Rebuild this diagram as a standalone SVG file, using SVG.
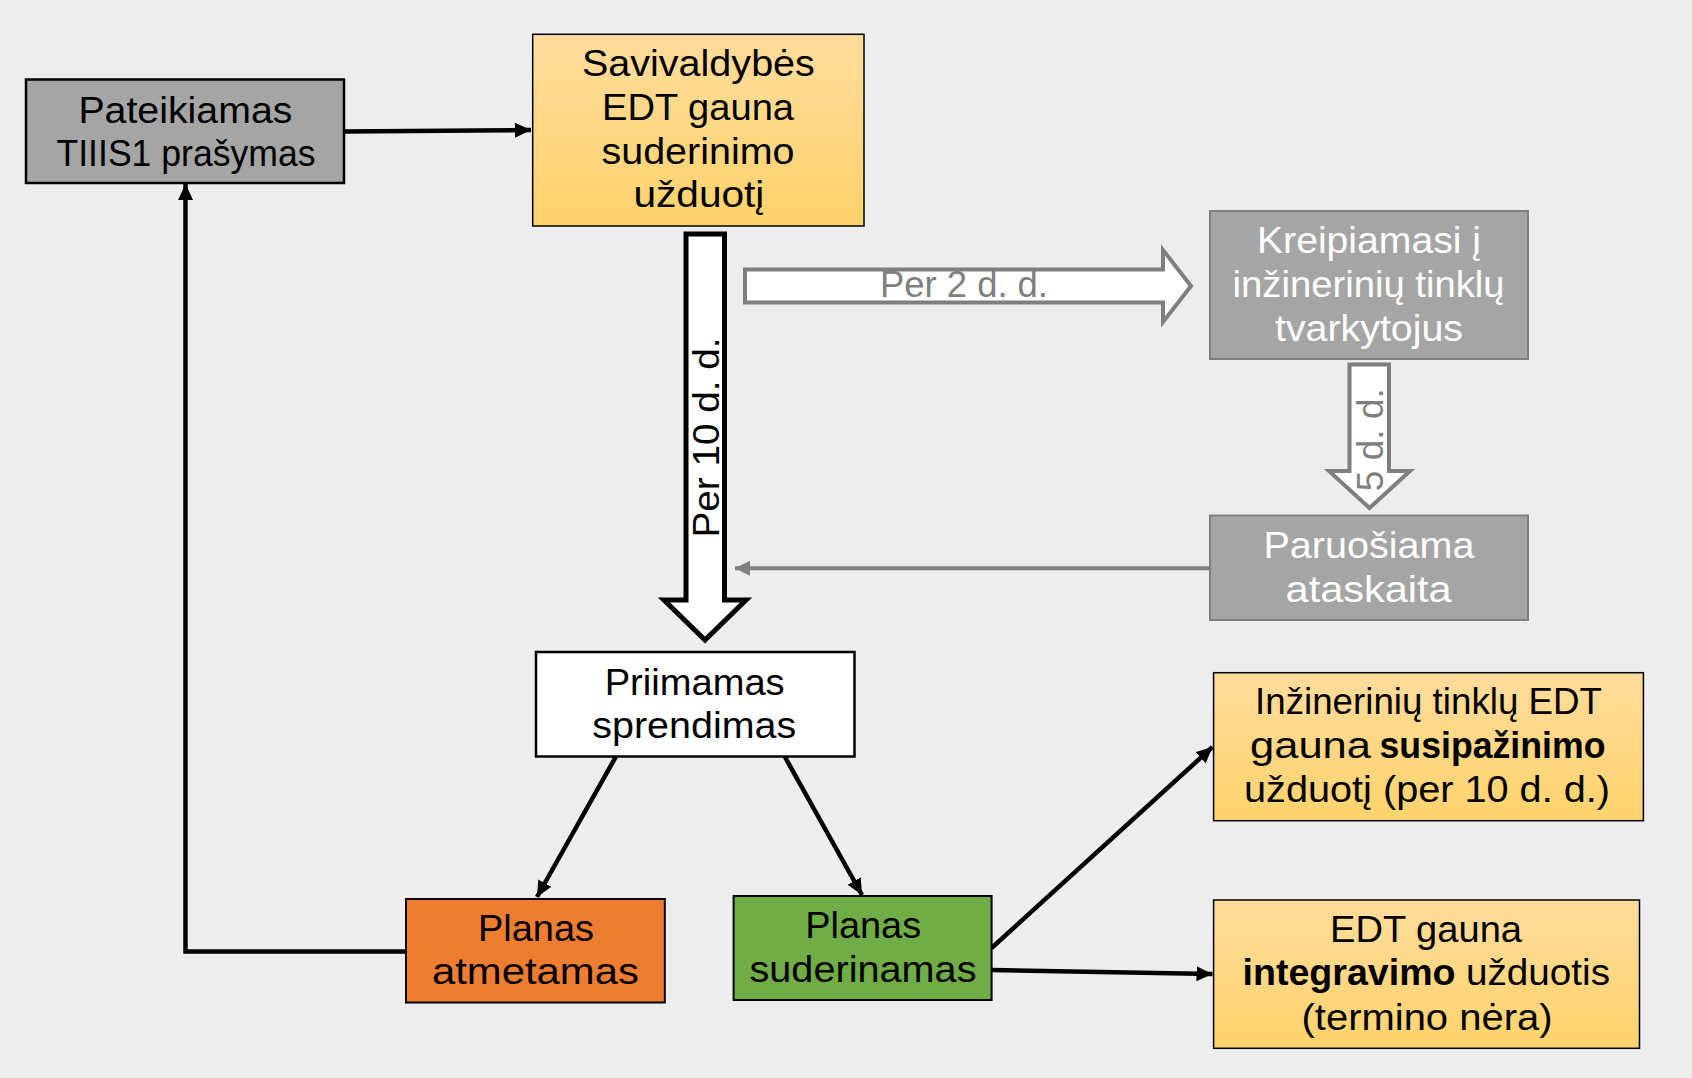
<svg xmlns="http://www.w3.org/2000/svg" width="1692" height="1078" viewBox="0 0 1692 1078">
<defs>
<style>
text{font-family:"Liberation Sans",Arial,sans-serif;font-size:37px;text-anchor:middle;fill:#000}
.w{fill:#fff}
.g{fill:#7f7f7f}
.b{font-weight:bold}
.st{text-anchor:start}
.gray{fill:#a5a5a5;stroke:#7f7f7f;stroke-width:2}
.org{fill:url(#og);stroke:#000;stroke-width:1.5}
.con{fill:none;stroke:#000;stroke-width:4.5}
.big{fill:#fff;stroke-linejoin:miter}
</style>
<linearGradient id="og" x1="0" y1="0" x2="0" y2="1">
<stop offset="0" stop-color="#ffdc9c"/>
<stop offset="1" stop-color="#ffd36c"/>
</linearGradient>
<marker id="ah" markerUnits="userSpaceOnUse" markerWidth="18" markerHeight="16" refX="16" refY="7.5" orient="auto">
<path d="M0,0 L16,7.5 L0,15 z" fill="#000"/>
</marker>
<marker id="ahg" markerUnits="userSpaceOnUse" markerWidth="16" markerHeight="16" refX="15" refY="7.5" orient="auto">
<path d="M0,0 L15,7.5 L0,15 z" fill="#7f7f7f"/>
</marker>
</defs>
<rect x="0" y="0" width="1692" height="1078" fill="#ededed"/>

<g id="connectors">
<line class="con" x1="344" y1="131.5" x2="531" y2="130" marker-end="url(#ah)"/>
<polyline class="con" points="405.9,951.5 185.5,951.5 185.5,184" marker-end="url(#ah)"/>
<line class="con" x1="615.7" y1="757" x2="537" y2="897" marker-end="url(#ah)"/>
<line class="con" x1="785" y1="757" x2="862" y2="895" marker-end="url(#ah)"/>
<line class="con" x1="991.6" y1="948" x2="1212.5" y2="747" marker-end="url(#ah)"/>
<line class="con" x1="991.6" y1="970" x2="1212.5" y2="974" marker-end="url(#ah)"/>
<line x1="1209" y1="568.3" x2="735" y2="568.3" stroke="#7f7f7f" stroke-width="4" marker-end="url(#ahg)"/>
<polygon class="big" points="686,234 724.5,234 724.5,600 746,600 705,640 664,600 686,600" stroke="#000" stroke-width="5"/>
<text transform="translate(719,437.5) rotate(-90)" font-size="38" textLength="200" lengthAdjust="spacingAndGlyphs">Per 10 d. d.</text>
<polygon class="big" points="745,269.5 1163,269.5 1163,250 1191,286 1163,322 1163,302.5 745,302.5" stroke="#7f7f7f" stroke-width="4"/>
<text class="g" x="964" y="297.3" textLength="168" lengthAdjust="spacingAndGlyphs">Per 2 d. d.</text>
<polygon class="big" points="1349.5,364.5 1389,364.5 1389,471 1410,471 1369.5,508 1329,471 1349.5,471" stroke="#7f7f7f" stroke-width="4"/>
<text class="g" transform="translate(1383,439.7) rotate(-90)" textLength="103" lengthAdjust="spacingAndGlyphs">5 d. d.</text>
</g>

<g id="n-pateikiamas">
<rect x="26" y="79.5" width="318" height="103.5" fill="#a5a5a5" stroke="#000" stroke-width="2.5"/>
<text x="185.4" y="122.7" textLength="214" lengthAdjust="spacingAndGlyphs">Pateikiamas</text>
<text x="186" y="165.5" textLength="259" lengthAdjust="spacingAndGlyphs">TIIIS1 prašymas</text>
</g>

<g id="n-savivaldybes">
<rect class="org" x="532.7" y="34.3" width="331.3" height="191.7"/>
<text x="698.4" y="76" textLength="233" lengthAdjust="spacingAndGlyphs">Savivaldybės</text>
<text x="698" y="120" textLength="192" lengthAdjust="spacingAndGlyphs">EDT gauna</text>
<text x="698" y="164" textLength="193" lengthAdjust="spacingAndGlyphs">suderinimo</text>
<text x="698.9" y="206.7" textLength="131" lengthAdjust="spacingAndGlyphs">užduotį</text>
</g>

<g id="n-kreipiamasi">
<rect class="gray" x="1210" y="211" width="318" height="148"/>
<text class="w" x="1369" y="253.3" textLength="224" lengthAdjust="spacingAndGlyphs">Kreipiamasi į</text>
<text class="w" x="1368.6" y="297.3" textLength="272" lengthAdjust="spacingAndGlyphs">inžinerinių tinklų</text>
<text class="w" x="1369" y="340.7" textLength="188" lengthAdjust="spacingAndGlyphs">tvarkytojus</text>
</g>

<g id="n-paruosiama">
<rect class="gray" x="1210" y="515.5" width="318" height="104.5"/>
<text class="w" x="1369" y="558.3" textLength="211" lengthAdjust="spacingAndGlyphs">Paruošiama</text>
<text class="w" x="1368.6" y="601.7" textLength="166" lengthAdjust="spacingAndGlyphs">ataskaita</text>
</g>

<g id="n-priimamas">
<rect x="536" y="652" width="318.5" height="104.5" fill="#fff" stroke="#000" stroke-width="2.5"/>
<text x="694.7" y="695" textLength="180" lengthAdjust="spacingAndGlyphs">Priimamas</text>
<text x="694.3" y="738.3" textLength="204" lengthAdjust="spacingAndGlyphs">sprendimas</text>
</g>

<g id="n-atmetamas">
<rect x="406" y="899" width="258.8" height="103.5" fill="#ed7d31" stroke="#000" stroke-width="2"/>
<text x="536" y="940.7" textLength="116" lengthAdjust="spacingAndGlyphs">Planas</text>
<text x="535.4" y="984" textLength="207" lengthAdjust="spacingAndGlyphs">atmetamas</text>
</g>

<g id="n-suderinamas">
<rect x="733.6" y="896" width="258" height="104" fill="#70ad47" stroke="#000" stroke-width="2"/>
<text x="863.2" y="937.7" textLength="116" lengthAdjust="spacingAndGlyphs">Planas</text>
<text x="863" y="981.7" textLength="227" lengthAdjust="spacingAndGlyphs">suderinamas</text>
</g>

<g id="n-susipazinimo">
<rect class="org" x="1213.6" y="672.7" width="429.8" height="148"/>
<text x="1428.5" y="714" textLength="347" lengthAdjust="spacingAndGlyphs">Inžinerinių tinklų EDT</text>
<text class="st" x="1250" y="758.3" textLength="121" lengthAdjust="spacingAndGlyphs">gauna</text>
<text class="st b" x="1379.5" y="758.3" textLength="226" lengthAdjust="spacingAndGlyphs">susipažinimo</text>
<text x="1427" y="801.7" textLength="366" lengthAdjust="spacingAndGlyphs">užduotį (per 10 d. d.)</text>
</g>

<g id="n-integravimo">
<rect class="org" x="1213.6" y="900" width="425.9" height="148.3"/>
<text x="1426" y="941.7" textLength="192" lengthAdjust="spacingAndGlyphs">EDT gauna</text>
<text class="st b" x="1242.5" y="985" textLength="213" lengthAdjust="spacingAndGlyphs">integravimo</text>
<text class="st" x="1466" y="985" textLength="144" lengthAdjust="spacingAndGlyphs">užduotis</text>
<text x="1427" y="1030" textLength="251" lengthAdjust="spacingAndGlyphs">(termino nėra)</text>
</g>
</svg>
